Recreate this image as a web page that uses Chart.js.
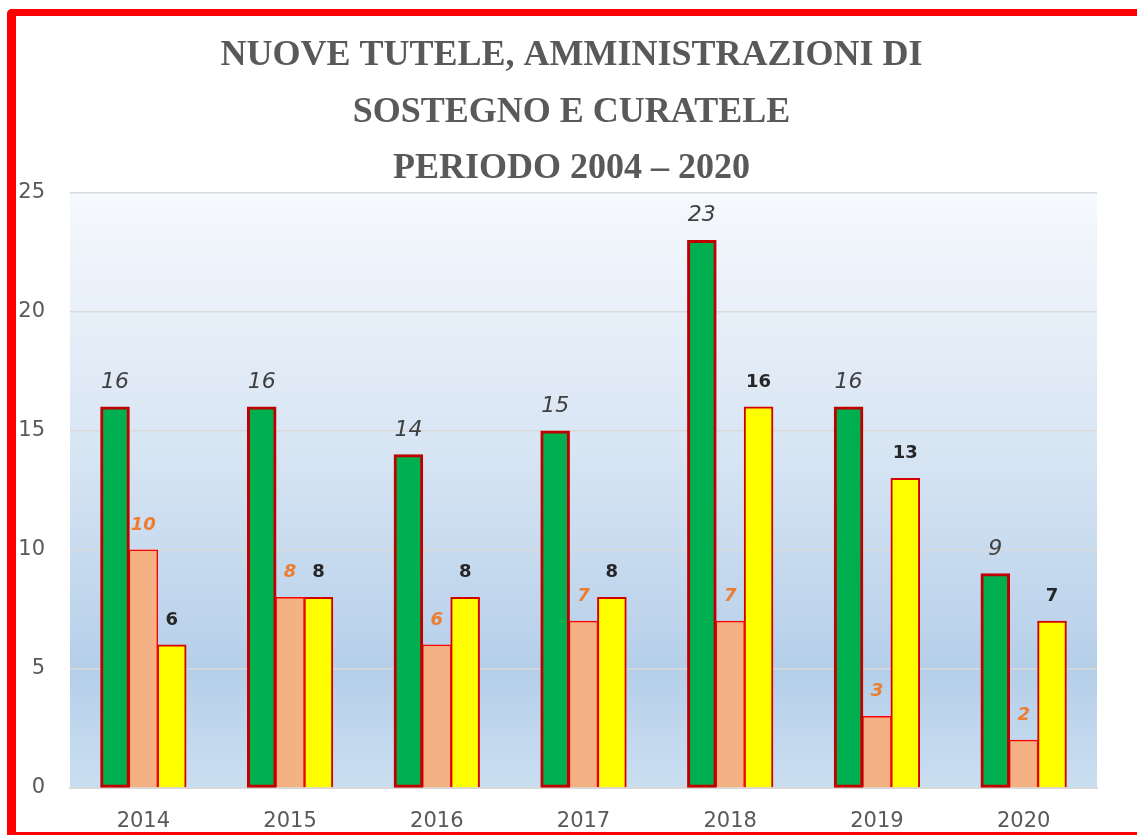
<!DOCTYPE html>
<html>
<head>
<meta charset="utf-8">
<script src="https://cdn.jsdelivr.net/npm/chart.js@4.4.0/dist/chart.umd.min.js"></script>
<style>
  html, body { margin: 0; padding: 0; background: #ffffff; overflow: hidden; }
  #wrap { position: relative; width: 1137px; height: 835px; }
  #frame {
    position: absolute; left: 7px; top: 9px; width: 1160px; height: 826px;
    box-sizing: border-box;
    border-left: 9px solid #ff0000; border-top: 7px solid #ff0000; border-bottom: 3px solid #ff0000;
    border-top-left-radius: 5px;
    pointer-events: none;
  }
</style>
</head>
<body>
<div id="wrap">
  <canvas id="chart"></canvas>
  <div id="frame"></div>
</div>
<script>
const categories = ['2014', '2015', '2016', '2017', '2018', '2019', '2020'];
const tutele = [16, 16, 14, 15, 23, 16, 9];
const amministrazioni = [10, 8, 6, 7, 7, 3, 2];
const curatele = [6, 8, 8, 8, 16, 13, 7];
const yTicks = [0, 5, 10, 15, 20, 25];

const titleLines = ['NUOVE TUTELE, AMMINISTRAZIONI DI', 'SOSTEGNO E CURATELE', 'PERIODO 2004 \u2013 2020'];

// gradient behind the plot area
const plotBackground = {
  id: 'plotBackground',
  beforeDraw(chart) {
    const { ctx, chartArea: a } = chart;
    const g = ctx.createLinearGradient(0, a.top, 0, a.bottom);
    g.addColorStop(0, '#f6f9fd');
    g.addColorStop(0.45, '#d6e4f3');
    g.addColorStop(0.8, '#b5cfe9');
    g.addColorStop(1, '#cadef1');
    ctx.save();
    ctx.fillStyle = g;
    ctx.fillRect(a.left, a.top, a.right - a.left, a.bottom - a.top);
    ctx.restore();
  }
};

// three-line title, centred on the whole card
const cardTitle = {
  id: 'cardTitle',
  afterDraw(chart) {
    const ctx = chart.ctx;
    ctx.save();
    ctx.font = 'bold 36px "Liberation Serif"';
    ctx.fillStyle = '#595959';
    ctx.textAlign = 'center';
    ctx.textBaseline = 'middle';
    titleLines.forEach((line, i) => {
      ctx.fillText(line, chart.width / 2 + 3, 56 + i * 56.5);
    });
    ctx.restore();
  }
};

// value labels above each bar
const valueLabels = {
  id: 'valueLabels',
  afterDatasetsDraw(chart) {
    const ctx = chart.ctx;
    chart.data.datasets.forEach((ds, i) => {
      const meta = chart.getDatasetMeta(i);
      ctx.save();
      ctx.font = ds.labelFont;
      ctx.fillStyle = ds.labelColor;
      ctx.textAlign = 'center';
      ctx.textBaseline = 'middle';
      meta.data.forEach((bar, j) => {
        ctx.fillText(String(ds.data[j]), bar.x, bar.y - 25);
      });
      ctx.restore();
    });
  }
};

new Chart(document.getElementById('chart'), {
  type: 'bar',
  data: {
    labels: categories,
    datasets: [
      {
        label: 'Tutele',
        data: tutele,
        backgroundColor: '#00b050',
        borderColor: '#c00000',
        borderWidth: 3,
        borderSkipped: false,
        labelFont: 'italic 22px "DejaVu Sans"',
        labelColor: '#404040',
      },
      {
        label: 'Amministrazioni di sostegno',
        data: amministrazioni,
        backgroundColor: '#f4b183',
        borderColor: '#ff0000',
        borderWidth: 1.5,
        labelFont: 'italic bold 18px "DejaVu Sans"',
        labelColor: '#ed7d31',
      },
      {
        label: 'Curatele',
        data: curatele,
        backgroundColor: '#ffff00',
        borderColor: '#d40000',
        borderWidth: 2,
        labelFont: 'bold 18px "DejaVu Sans"',
        labelColor: '#262626',
      },
    ],
  },
  options: {
    responsive: true,
    maintainAspectRatio: false,
    animation: false,
    layout: { padding: { top: 193, left: 18, right: 40, bottom: 0 } },
    datasets: {
      bar: { barPercentage: 1, categoryPercentage: 0.58, inflateAmount: 0.6 },
    },
    plugins: {
      legend: { display: false },
      tooltip: { enabled: false },
      title: { display: false },
    },
    scales: {
      x: {
        grid: { display: false, drawTicks: false },
        border: { color: '#d9d9d9', width: 2 },
        ticks: { color: '#595959', font: { family: '"DejaVu Sans"', size: 21 }, padding: 21 },
        afterFit(scale) { scale.height = 47; },
      },
      y: {
        min: 0,
        max: 25,
        afterBuildTicks(scale) { scale.ticks = yTicks.map(v => ({ value: v })); },
        grid: { color: '#d9d9d9', lineWidth: 1.5, drawTicks: false },
        border: { display: false },
        ticks: { color: '#595959', font: { family: '"DejaVu Sans"', size: 21 }, padding: 25 },
        afterFit(scale) { scale.width = 52; },
      },
    },
  },
  plugins: [plotBackground, valueLabels, cardTitle],
});
</script>
</body>
</html>
